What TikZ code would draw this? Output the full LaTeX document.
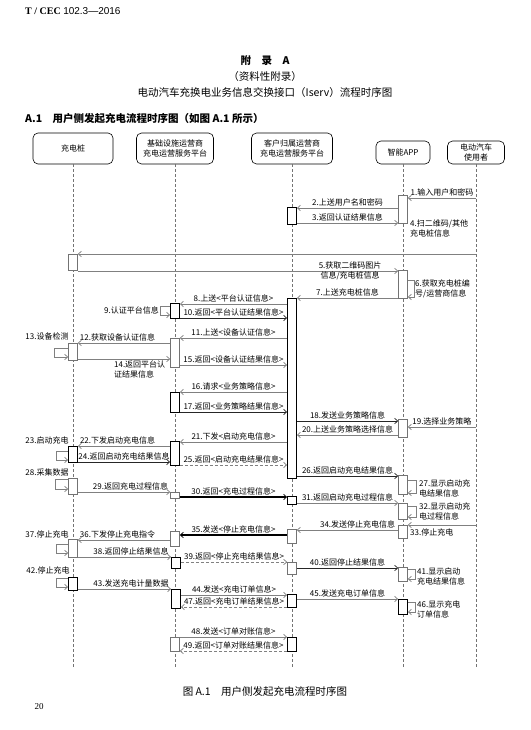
\documentclass[tikz,border=0pt]{standalone}
\usepackage{fontspec}
\setmainfont{Liberation Serif}
\newfontfamily\zhfont{Noto Sans CJK SC}
\newfontfamily\arialfont{Liberation Sans}
\usetikzlibrary{arrows.meta}
\begin{document}
\begin{tikzpicture}[x=1pt,y=-1pt,
		>={Straight Barb[length=3pt,width=5.5pt]},
		every node/.style={font=\zhfont\fontsize{8}{10}\selectfont, inner sep=1pt},
		head/.style={draw, rounded corners=5pt, align=center, minimum height=31pt, line width=0.6pt},
		life/.style={draw=black!55, dash pattern=on 3pt off 2pt, line width=0.5pt},
		act/.style={draw=black!55, fill=white, minimum width=9pt, inner sep=0pt, line width=0.7pt},
		actk/.style={act, draw=black, line width=0.9pt},
		msg/.style={draw=black!50, ->, line width=0.7pt},
		msgk/.style={msg, draw=black!85},
		ret/.style={msg, dash pattern=on 3pt off 2pt},
		hot/.style={draw=black, -{Straight Barb[length=3pt,width=5.5pt,line width=0.7pt]}, line width=1.8pt},
		title/.style={font=\zhfont\fontsize{10.5}{12}\selectfont}]
	\useasboundingbox (0,0) rectangle (530,730);

	% page head and titles
	\node[anchor=west, font=\fontsize{10}{12}\selectfont] (std) at (24,11) {\textbf{T / CEC} \arialfont 102.3—2016};
	\node[title] (fulu) at (265,61) {\bfseries 附　录　A};
	\node[title] (ziliao) at (265,77) {（资料性附录）};
	\node[title] (ttl) at (265,93) {电动汽车充换电业务信息交换接口（Iserv）流程时序图};
	\node[title, anchor=west] (sec) at (24,119) {\bfseries A.1　用户侧发起充电流程时序图（如图 A.1 所示）};

	% participants
	\node[head, minimum width=80pt] (pile) at (73,148.5) {充电桩};
	\node[head, minimum width=77pt] (infra) at (175,148.5) {基础设施运营商\\充电运营服务平台};
	\node[head, minimum width=81pt] (cust) at (292,148.5) {客户归属运营商\\充电运营服务平台};
	\node[head, minimum width=54pt, minimum height=23pt] (app) at (403,152.5) {智能APP};
	\node[head, minimum width=57pt, minimum height=23pt] (user) at (476,152.5) {电动汽车\\使用者};

	\foreach \who in {pile,infra,cust,app,user}
		\draw[life] (\who.south) -- (\who.south |- 0,667);

	% activations
	\node[act, minimum height=28pt] (a1) at (403,209) {};
	\node[actk, minimum height=17pt] (k1) at (292,215.5) {};
	\node[act, minimum height=16pt] (p1) at (73,262) {};
	\node[act, minimum height=28pt] (a2) at (403,284) {};
	\node[actk, minimum height=180pt] (k2) at (292,388) {};
	\node[actk, minimum height=15pt] (b1) at (175,310.5) {};
	\node[act, minimum height=29pt] (b2) at (175,352.5) {};
	\node[act, minimum height=17pt] (p2) at (73,351.5) {};
	\node[actk, minimum height=20pt] (b3) at (175,402) {};
	\node[act, minimum height=18pt] (a3) at (403,428) {};
	\node[actk, minimum height=24pt] (b4) at (175,453) {};
	\node[actk, minimum height=16pt] (p3) at (73,454) {};
	\node[act, minimum height=19pt] (a4) at (403,484.5) {};
	\node[act, minimum height=16pt] (p4) at (73,486) {};
	\node[act, minimum height=6pt] (b5) at (175,495) {};
	\node[actk, minimum height=8pt] (k3) at (292,500) {};
	\node[act, minimum height=16pt] (a5) at (403,511) {};
	\node[act, minimum height=13pt] (a6) at (403,531.5) {};
	\node[act, minimum height=14pt] (k4) at (292,536) {};
	\node[act, minimum height=15pt] (b6) at (175,538.5) {};
	\node[act, minimum height=18pt] (p5) at (73,548) {};
	\node[actk, minimum height=11pt] (b7) at (176,562.5) {};
	\node[act, minimum height=12pt] (k5) at (292,568) {};
	\node[act, minimum height=14pt] (a7) at (403,574) {};
	\node[actk, minimum height=13pt] (p6) at (73,583.5) {};
	\node[actk, minimum height=19pt] (b8) at (176,598.5) {};
	\node[actk, minimum height=13pt] (k6) at (292,600.5) {};
	\node[actk, minimum height=15pt] (a8) at (403,606.5) {};
	\node[act, minimum height=14pt] (b9) at (175,644) {};
	\node[actk, minimum height=14pt] (k7) at (292,644) {};

	% login
	\draw[msg] (user |- 0,198) -- node[above] {1.输入用户和密码} (a1.east |- 0,198);
	\draw[msg] (a1.west |- 0,208) -- node[above] {2.上送用户名和密码} (k1.east |- 0,208);
	\draw[msg] (k1.east |- 0,223) -- node[above] {3.返回认证结果信息} (a1.west |- 0,223);
	\node[anchor=north west, align=left] (scan) at (409,219) {4.扫二维码/其他\\充电桩信息};

	% scan code, authentication
	\draw[msg] (user |- 0,254) -- (p1.east |- 0,254);
	\draw[msg] (p1.east |- 0,271) -- node[pos=.85, align=center] {5.获取二维码图片\\信息/充电桩信息} (a2.west |- 0,271);
	\draw[msg] (a2.east |- 0,280) -- ++(6,0) -- ++(0,17) -- (a2.east |- 0,297);
	\node[anchor=west, align=left] (n6) at (414,289) {6.获取充电桩编\\号/运营商信息};
	\draw[msg] (a2.west |- 0,298) -- node[above] {7.上送充电桩信息} (k2.east |- 0,298);
	\draw[msg] (k2.west |- 0,304) -- node[above] {8.上送<平台认证信息>} (b1.east |- 0,304);
	\draw[msg] (b1.west |- 0,306) -- ++(-10,0) -- ++(0,9) -- (b1.west |- 0,315);
	\node[anchor=east] (n9) at (160,310) {9.认证平台信息};
	\draw[msgk] (b1.east |- 0,318) -- node[above] {10.返回<平台认证结果信息>} (k2.west |- 0,318);
	\draw[msg] (k2.west |- 0,338) -- node[above] {11.上送<设备认证信息>} (b2.east |- 0,338);
	\draw[msg] (b2.west |- 0,343) -- node[above, pos=.57] {12.获取设备认证信息} (p2.east |- 0,343);
	\draw[msg] (p2.west |- 0,348) -- ++(-14,0) -- ++(0,9) -- (p2.west |- 0,357);
	\node (n13) at (47,336) {13.设备检测};
	\draw[msg] (p2.east |- 0,359) -- node[below, pos=.67, align=left] {14.返回平台认\\证结果信息} (b2.west |- 0,359);
	\draw[msg] (b2.east |- 0,365) -- node[above] {15.返回<设备认证结果信息>} (k2.west |- 0,365);

	% strategy
	\draw[msg] (k2.west |- 0,392) -- node[above] {16.请求<业务策略信息>} (b3.east |- 0,392);
	\draw[msgk] (b3.east |- 0,412) -- node[above] {17.返回<业务策略结果信息>} (k2.west |- 0,412);
	\draw[msgk] (k2.east |- 0,421) -- node[above] {18.发送业务策略信息} (a3.west |- 0,421);
	\draw[msg] (user |- 0,427) -- node[above] {19.选择业务策略} (a3.east |- 0,427);
	\draw[msg] (a3.west |- 0,435) -- node[above] {20.上送业务策略选择信息} (k2.east |- 0,435);

	% start charging
	\draw[msg] (k2.west |- 0,442) -- node[above] {21.下发<启动充电信息>} (b4.east |- 0,442);
	\draw[msg] (b4.west |- 0,446) -- node[above, pos=.57] {22.下发启动充电信息} (p3.east |- 0,446);
	\draw[msg] (p3.west |- 0,451) -- ++(-12,0) -- ++(0,9) -- (p3.west |- 0,460);
	\node (n23) at (47,440) {23.启动充电};
	\draw[msgk] (p3.east |- 0,462) -- node[above] {24.返回启动充电结果信息} (b4.west |- 0,462);
	\draw[ret] (b4.east |- 0,465) -- node[above] {25.返回<启动充电结果信息>} (k2.west |- 0,465);
	\draw[msgk] (k2.east |- 0,476) -- node[above] {26.返回启动充电结果信息} (a4.west |- 0,476);
	\draw[msg] (a4.east |- 0,480) -- ++(8,0) -- ++(0,13) -- (a4.east |- 0,493);
	\node[anchor=west, align=left] (n27) at (418,488) {27.显示启动充\\电结果信息};

	% charging process
	\draw[msg] (p4.west |- 0,479) -- ++(-13,0) -- ++(0,10) -- (p4.west |- 0,489);
	\node (n28) at (47,472) {28.采集数据};
	\draw[msg] (p4.east |- 0,492) -- node[above, pos=.57] {29.返回充电过程信息} (b5.west |- 0,492);
	\draw[hot] (b5.east |- 0,497) -- node[above] {30.返回<充电过程信息>} (k3.west |- 0,497);
	\draw[msg] (k3.east |- 0,503) -- node[above] {31.返回启动充电过程信息} (a5.west |- 0,503);
	\draw[msg] (a5.east |- 0,506) -- ++(8,0) -- ++(0,11) -- (a5.east |- 0,517);
	\node[anchor=west, align=left] (n32) at (418,511) {32.显示启动充\\电过程信息};

	% stop charging
	\draw[msg] (user |- 0,525) -- (a6.east |- 0,525);
	\node[anchor=west] (n33) at (409,532) {33.停止充电};
	\draw[msg] (a6.west |- 0,530) -- node[above, pos=.4] {34.发送停止充电信息} (k4.east |- 0,530);
	\draw[hot] (k4.west |- 0,535) -- node[above] {35.发送<停止充电信息>} (b6.east |- 0,535);
	\draw[msg] (b6.west |- 0,540) -- node[above, pos=.57] {36.下发停止充电指令} (p5.east |- 0,540);
	\draw[msg] (p5.west |- 0,544) -- ++(-12,0) -- ++(0,9) -- (p5.west |- 0,553);
	\node (n37) at (47,534) {37.停止充电};
	\draw[msg] (p5.east |- 0,557) -- node[above, pos=.57] {38.返回停止结果信息} (b7.west |- 0,557);
	\draw[ret] (b7.east |- 0,562) -- node[above] {39.返回<停止充电结果信息>} (k5.west |- 0,562);
	\draw[msgk] (k5.east |- 0,568) -- node[above] {40.返回停止结果信息} (a7.west |- 0,568);
	\draw[msg] (a7.east |- 0,569) -- ++(7,0) -- ++(0,10) -- (a7.east |- 0,579);
	\node[anchor=west, align=left] (n41) at (416,576) {41.显示启动\\充电结果信息};

	% metering and order
	\node (n42) at (48,570) {42.停止充电};
	\draw[msg] (p6.west |- 0,578) -- ++(-12,0) -- ++(0,9) -- (p6.west |- 0,587);
	\draw[msg] (p6.east |- 0,589) -- node[above, pos=.57] {43.发送充电计量数据} (b8.west |- 0,589);
	\draw[msg] (b8.east |- 0,595) -- node[above] {44.发送<充电订单信息>} (k6.west |- 0,595);
	\draw[msg] (k6.east |- 0,599) -- node[above] {45.发送充电订单信息} (a8.west |- 0,599);
	\draw[msg] (a8.east |- 0,602) -- ++(7,0) -- ++(0,10) -- (a8.east |- 0,612);
	\node[anchor=west, align=left] (n46) at (416,609) {46.显示充电\\订单信息};
	\draw[ret] (k6.west |- 0,607) -- node[above] {47.返回<充电订单结果信息>} (b8.east |- 0,607);

	% reconciliation
	\draw[msg] (b9.east |- 0,637) -- node[above] {48.发送<订单对账信息>} (k7.west |- 0,637);
	\draw[ret] (k7.west |- 0,651) -- node[above] {49.返回<订单对账结果信息>} (b9.east |- 0,651);

	% caption and page number
	\node[title] (cap) at (265,692) {图 A.1　用户侧发起充电流程时序图};
	\node[font=\fontsize{9}{11}\selectfont] (pg) at (39,707) {20};
\end{tikzpicture}
\end{document}
